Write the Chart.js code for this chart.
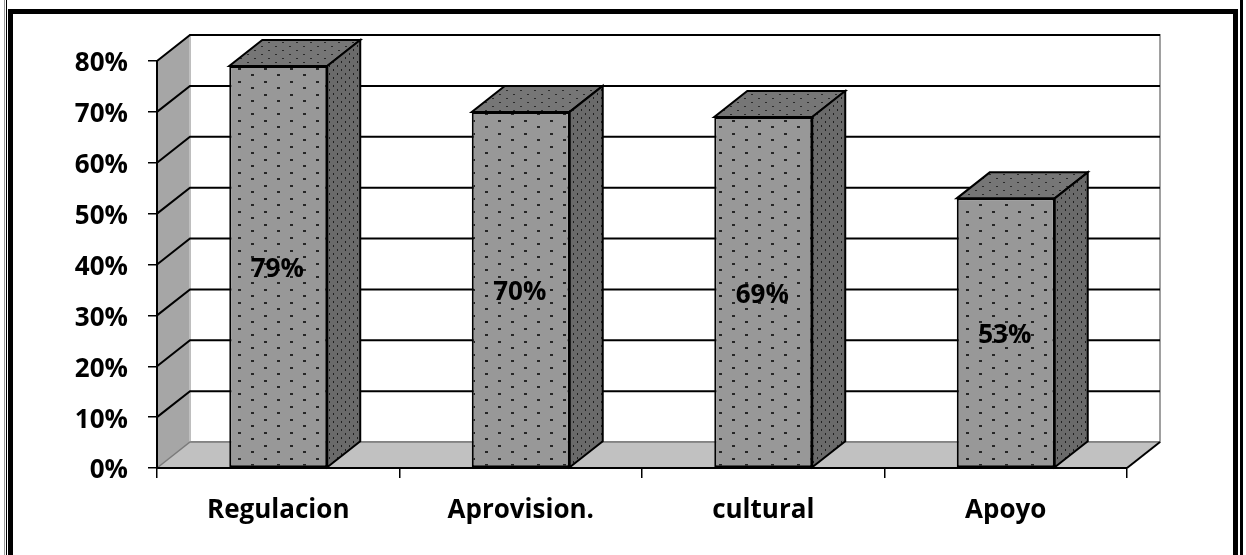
<!DOCTYPE html>
<html>
<head>
<meta charset="utf-8">
<script src="https://cdn.jsdelivr.net/npm/chart.js@4.4.1/dist/chart.umd.min.js"></script>
<style>
  html, body { margin: 0; padding: 0; background: #fff; }
  body { width: 1246px; height: 555px; position: relative; overflow: hidden; }
  #chart { position: absolute; left: 0; top: 0; }
  .line { position: absolute; }
</style>
</head>
<body>
<!-- marco doble -->
<div class="line" style="left:4px;top:0;width:1px;height:555px;background:#999"></div>
<div class="line" style="left:6px;top:0;width:1px;height:555px;background:#000"></div>
<div class="line" style="left:8px;top:9px;width:1230px;height:600px;border:5px solid #000;border-bottom:none;box-sizing:border-box"></div>
<div class="line" style="left:1240px;top:0;width:3px;height:555px;background:#000"></div>
<canvas id="chart" width="1246" height="555"></canvas>
<script>
// =============================
// DATOS
// =============================
const categorias = ["Regulacion", "Aprovision.", "cultural", "Apoyo"];
const valores = [0.79, 0.70, 0.69, 0.53];
const yMin = 0;
const yMax = 0.8;
const yPaso = 0.1;

// =============================
// ESTILO 3D
// =============================
const FONDO_X = 33;   // profundidad horizontal
const FONDO_Y = 26;   // profundidad vertical
const fuente = { family: "'Open Sans'", weight: "bold", size: 26 };

function crearPatron(base, punto, w, h, puntos) {
    const c = document.createElement("canvas");
    c.width = w;
    c.height = h;
    const g = c.getContext("2d");
    g.fillStyle = base;
    g.fillRect(0, 0, w, h);
    g.fillStyle = punto;
    puntos.forEach(p => g.fillRect(p[0], p[1], p[2], p[3]));
    return g.createPattern(c, "repeat");
}

const ctx = document.getElementById("chart").getContext("2d");
const patronFrente = crearPatron("#989898", "#262626", 26, 13, [[4, 3, 3, 2], [17, 9, 3, 2]]);
const patronLado = crearPatron("#6a6a6a", "#1e1e1e", 8, 8, [[1, 1, 1, 2], [5, 5, 1, 2]]);
const patronTapa = crearPatron("#767676", "#2a2a2a", 14, 8, [[2, 2, 2, 1], [9, 6, 2, 1]]);

function poligono(g, pts, relleno, trazo, ancho) {
    g.beginPath();
    g.moveTo(pts[0][0], pts[0][1]);
    for (let i = 1; i < pts.length; i++) g.lineTo(pts[i][0], pts[i][1]);
    g.closePath();
    if (relleno) { g.fillStyle = relleno; g.fill(); }
    if (trazo) { g.strokeStyle = trazo; g.lineWidth = ancho || 1; g.stroke(); }
}

// paredes, piso y lineas de cuadricula
const caja3d = {
    id: "caja3d",
    beforeDraw(chart) {
        const g = chart.ctx;
        const a = chart.chartArea;
        const y = chart.scales.y;
        const L = a.left, R = a.right, T = a.top, B = a.bottom;
        g.save();
        // pared del fondo
        poligono(g, [[L + FONDO_X, T - FONDO_Y], [R + FONDO_X, T - FONDO_Y], [R + FONDO_X, B - FONDO_Y], [L + FONDO_X, B - FONDO_Y]], "#fff", "#a0a0a0", 2);
        // pared lateral
        poligono(g, [[L, B], [L, T], [L + FONDO_X, T - FONDO_Y], [L + FONDO_X, B - FONDO_Y]], "#a6a6a6", null);
        g.strokeStyle = "#c8c8c8"; g.lineWidth = 1.5;
        g.beginPath(); g.moveTo(L + FONDO_X, T - FONDO_Y); g.lineTo(L + FONDO_X, B - FONDO_Y); g.stroke();
        // piso
        poligono(g, [[L, B], [R, B], [R + FONDO_X, B - FONDO_Y], [L + FONDO_X, B - FONDO_Y]], "#c1c1c1", null);
        g.strokeStyle = "#7a7a7a"; g.lineWidth = 1.5;
        g.beginPath(); g.moveTo(L, B); g.lineTo(L + FONDO_X, B - FONDO_Y); g.lineTo(R + FONDO_X, B - FONDO_Y); g.stroke();
        g.strokeStyle = "#000"; g.lineWidth = 2;
        g.beginPath(); g.moveTo(R, B); g.lineTo(R + FONDO_X, B - FONDO_Y); g.stroke();
        // cuadricula
        y.ticks.forEach(t => {
            if (t.value <= yMin) return;
            const py = y.getPixelForValue(t.value);
            g.strokeStyle = "#000";
            g.lineWidth = 2;
            g.beginPath();
            g.moveTo(L, py);
            g.lineTo(L + FONDO_X, py - FONDO_Y);
            g.lineTo(R + FONDO_X, py - FONDO_Y);
            g.stroke();
        });
        g.restore();
    },
    afterDatasetsDraw(chart) {
        const g = chart.ctx;
        const meta = chart.getDatasetMeta(0);
        g.save();
        g.lineJoin = "miter";
        meta.data.forEach((bar, i) => {
            const p = bar.getProps(["x", "y", "base", "width"], true);
            const izq = p.x - p.width / 2, der = p.x + p.width / 2;
            // tapa
            poligono(g, [[izq, p.y], [der, p.y], [der + FONDO_X, p.y - FONDO_Y], [izq + FONDO_X, p.y - FONDO_Y]], patronTapa, "#000", 2);
            // lado
            poligono(g, [[der, p.y], [der + FONDO_X, p.y - FONDO_Y], [der + FONDO_X, p.base - FONDO_Y], [der, p.base]], patronLado, "#000", 2);
            // etiqueta
            g.fillStyle = "#000";
            g.font = `${fuente.weight} ${fuente.size}px ${fuente.family}`;
            g.textAlign = "center";
            g.textBaseline = "middle";
            g.fillText(Math.round(valores[i] * 100) + "%", p.x - 1, (p.y + p.base) / 2 + 3);
        });
        g.restore();
    }
};

function dibujar() {
    new Chart(ctx, {
        type: "bar",
        data: {
            labels: categorias,
            datasets: [{
                data: valores,
                backgroundColor: patronFrente,
                borderColor: "#000",
                borderWidth: 2,
                borderSkipped: false,
                categoryPercentage: 1,
                barPercentage: 0.404
            }]
        },
        options: {
            responsive: false,
            animation: false,
            layout: { padding: { top: 61, right: 119, bottom: 0, left: 0 } },
            plugins: { legend: { display: false }, tooltip: { enabled: false } },
            scales: {
                x: {
                    grid: { offset: true, drawOnChartArea: false, color: "#000", lineWidth: 1.5, tickLength: 10 },
                    border: { color: "#000", width: 2 },
                    ticks: { color: "#000", font: fuente, padding: 17, maxRotation: 0 },
                    afterFit(s) { s.height = 87; }
                },
                y: {
                    min: yMin,
                    max: yMax,
                    grid: { drawOnChartArea: false, color: "#000", lineWidth: 1.5, tickLength: 9 },
                    border: { color: "#000", width: 2 },
                    ticks: {
                        stepSize: yPaso,
                        color: "#000",
                        font: fuente,
                        padding: 20,
                        labelOffset: 3,
                        callback: v => Math.round(v * 100) + "%"
                    },
                    afterFit(s) { s.width = 157; }
                }
            }
        },
        plugins: [caja3d]
    });
}

document.fonts.load("bold 26px 'Open Sans'").then(dibujar, dibujar);
</script>
</body>
</html>
